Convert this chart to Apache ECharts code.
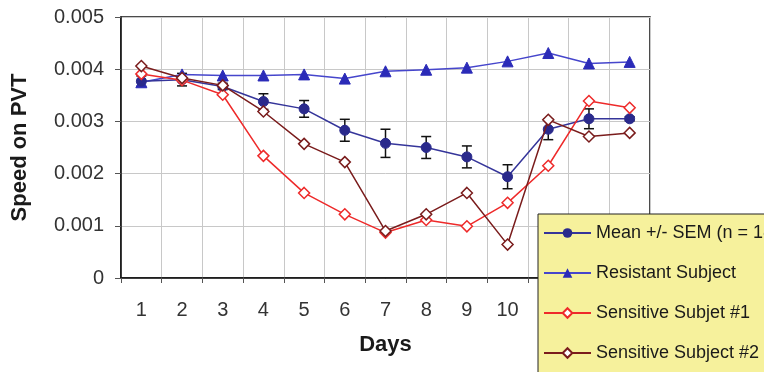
<!DOCTYPE html>
<html>
<head>
<meta charset="utf-8">
<script src="https://cdn.jsdelivr.net/npm/echarts@6/dist/echarts.min.js"></script>
<style>
  html, body { margin: 0; padding: 0; background: #ffffff; }
  #chart { width: 764px; height: 372px; }
</style>
</head>
<body>
<div id="chart"></div>
<script>
// Days of the protocol
const days = ['1', '2', '3', '4', '5', '6', '7', '8', '9', '10', '11', '12', '13'];

// PVT speed per day
const meanSpeed = [0.00377, 0.00380, 0.00367, 0.00338, 0.00324, 0.00283, 0.00258, 0.00250, 0.00232, 0.00194, 0.00285, 0.00305, 0.00305];
const meanSem   = [0.00010, 0.00012, 0.00006, 0.00015, 0.00016, 0.00021, 0.00027, 0.00021, 0.00021, 0.00023, 0.00020, 0.00019, 0.00004];
const resistant = [0.00375, 0.00390, 0.00388, 0.00388, 0.00390, 0.00382, 0.00396, 0.00399, 0.00403, 0.00415, 0.00431, 0.00411, 0.00414];
const sensitive1 = [0.00391, 0.00379, 0.00351, 0.00234, 0.00163, 0.00122, 0.00087, 0.00111, 0.00099, 0.00144, 0.00215, 0.00339, 0.00326];
const sensitive2 = [0.00406, 0.00383, 0.00369, 0.00319, 0.00257, 0.00222, 0.00090, 0.00122, 0.00163, 0.00064, 0.00303, 0.00271, 0.00278];

const yTicks = { min: 0, max: 0.005, step: 0.001 };

const names = {
  mean: 'Mean +/- SEM (n = 18)',
  resistant: 'Resistant Subject',
  s1: 'Sensitive Subjet #1',
  s2: 'Sensitive Subject #2'
};

const font = 'Arial, "Liberation Sans", Helvetica, sans-serif';

// Error bar rows: [category index, low, high]
const errorRows = meanSpeed.map((v, i) => [i, v - meanSem[i], v + meanSem[i]]);

const chart = echarts.init(document.getElementById('chart'), null, { renderer: 'canvas' });

chart.setOption({
  animation: false,
  backgroundColor: '#ffffff',
  textStyle: { fontFamily: font },
  grid: {
    left: 121, top: 17, width: 529, height: 261,
    outerBoundsMode: 'none',
    containLabel: false,
    show: true, borderColor: '#111111', borderWidth: 1.5, backgroundColor: 'transparent'
  },
  // Legend panel behind the legend entries
  graphic: [{
    type: 'rect',
    z: 10,
    shape: { x: 538, y: 214, width: 240, height: 170 },
    style: { fill: '#f6f19c', stroke: '#222222', lineWidth: 1 }
  }],
  xAxis: {
    type: 'category',
    data: days,
    boundaryGap: true,
    name: 'Days',
    nameLocation: 'middle',
    nameGap: 56,
    nameTextStyle: { fontSize: 22, fontWeight: 'bold', color: '#1a1a1a', fontFamily: font },
    axisLine: { lineStyle: { color: '#111111', width: 1.5 } },
    axisTick: { show: true, length: 5, lineStyle: { color: '#555555' } },
    axisLabel: { fontSize: 20, color: '#333333', margin: 22, fontFamily: font },
    splitLine: { show: true, lineStyle: { color: '#c8c8c8', width: 1 } }
  },
  yAxis: {
    type: 'value',
    min: yTicks.min,
    max: yTicks.max,
    interval: yTicks.step,
    name: 'Speed on PVT',
    nameLocation: 'middle',
    nameGap: 90,
    nameTextStyle: { fontSize: 22, fontWeight: 'bold', color: '#1a1a1a', fontFamily: font },
    axisLine: { show: true, lineStyle: { color: '#111111', width: 1.5 } },
    axisTick: { show: true, length: 6, lineStyle: { color: '#555555' } },
    axisLabel: {
      fontSize: 20, color: '#333333', margin: 17, fontFamily: font,
      formatter: v => (v === 0 ? '0' : v.toFixed(3))
    },
    splitLine: { show: true, lineStyle: { color: '#c8c8c8', width: 1 } }
  },
  legend: {
    orient: 'vertical',
    left: 538,
    top: 224,
    z: 20,
    padding: [0, 0, 0, 5],
    itemWidth: 47,
    itemHeight: 12,
    itemGap: 22,
    textStyle: { fontSize: 18, color: '#1a1a1a', fontFamily: font },
    data: [names.mean, names.resistant, names.s1, names.s2]
  },
  series: [
    {
      type: 'custom',
      name: 'sem',
      z: 1,
      data: errorRows,
      encode: { x: 0, y: [1, 2] },
      renderItem: (params, api) => {
        const i = api.value(0);
        const lo = api.coord([i, api.value(1)]);
        const hi = api.coord([i, api.value(2)]);
        const cap = 5;
        const style = { stroke: '#111111', lineWidth: 1.5 };
        return {
          type: 'group',
          children: [
            { type: 'line', shape: { x1: lo[0], y1: lo[1], x2: hi[0], y2: hi[1] }, style },
            { type: 'line', shape: { x1: lo[0] - cap, y1: lo[1], x2: lo[0] + cap, y2: lo[1] }, style },
            { type: 'line', shape: { x1: hi[0] - cap, y1: hi[1], x2: hi[0] + cap, y2: hi[1] }, style }
          ]
        };
      }
    },
    {
      type: 'line',
      name: names.resistant,
      z: 3,
      data: resistant,
      symbol: 'triangle',
      symbolSize: 11,
      lineStyle: { color: '#4646cc', width: 1.5 },
      itemStyle: { color: '#2b2bb8', borderColor: '#2b2bb8' }
    },
    {
      type: 'line',
      name: names.mean,
      z: 4,
      data: meanSpeed,
      symbol: 'circle',
      symbolSize: 10,
      lineStyle: { color: '#35359a', width: 1.5 },
      itemStyle: { color: '#2a2a8c', borderColor: '#2a2a8c' }
    },
    {
      type: 'line',
      name: names.s1,
      z: 5,
      data: sensitive1,
      symbol: 'diamond',
      symbolSize: 11,
      showAllSymbol: true,
      lineStyle: { color: '#ee2a2a', width: 1.5 },
      itemStyle: { color: '#ffffff', borderColor: '#ee2a2a', borderWidth: 1.5 }
    },
    {
      type: 'line',
      name: names.s2,
      z: 5,
      data: sensitive2,
      symbol: 'diamond',
      symbolSize: 11,
      lineStyle: { color: '#7a1c1c', width: 1.5 },
      itemStyle: { color: '#ffffff', borderColor: '#7a1c1c', borderWidth: 1.5 }
    }
  ]
});
</script>
</body>
</html>
